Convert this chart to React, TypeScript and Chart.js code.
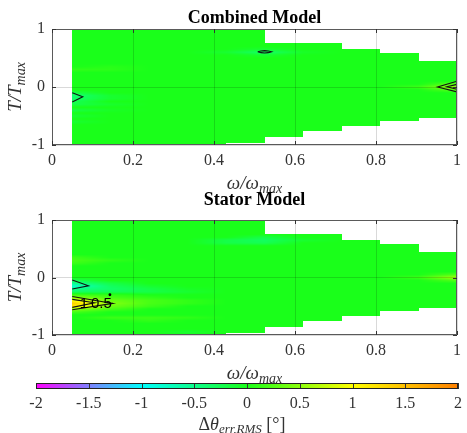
import React, { useEffect, useRef } from 'react';
import { Chart, registerables } from 'chart.js';

Chart.register(...registerables);

// ---------------- data ----------------
// speed grid (omega / omega_max) and operating envelope per speed interval
const omegaNodes = [0.05, 0.145, 0.24, 0.335, 0.43, 0.525, 0.62, 0.715, 0.81, 0.905, 1.0];
const envelopeTop = [1, 1, 1, 1, 1, 0.765, 0.765, 0.65, 0.58, 0.45];
const envelopeBottom = [-1, -1, -1, -1, -0.97, -0.86, -0.76, -0.67, -0.59, -0.53];
const torqueStep = 0.05;

// non-zero RMS angle-error nodes [omega, torque, error in degrees]
const combinedErrors: [number, number, number][] = [
  [0.05, -0.1, -0.2], [0.05, -0.15, -0.4], [0.05, -0.2, -0.35], [0.05, -0.25, -0.25],
  [0.05, -0.3, -0.2], [0.05, -0.4, -0.18], [0.05, -0.5, -0.12], [0.05, -0.6, -0.1],
  [0.145, -0.15, -0.1], [0.145, -0.2, -0.1], [0.145, -0.3, -0.08], [0.145, -0.4, -0.05],
  [0.05, 0.3, 0.1], [0.145, 0.3, 0.08], [0.145, 0.35, 0.06],
  [0.43, 0.6, -0.1], [0.525, 0.55, -0.1], [0.525, 0.6, -0.35], [0.525, 0.65, -0.1], [0.62, 0.6, -0.06],
  [0.905, 0, 0.15], [1, -0.05, 0.3], [1, 0, 0.6], [1, 0.05, 0.3],
];

const statorErrors: [number, number, number][] = [
  [0.05, -0.05, -0.25], [0.05, -0.1, -0.5], [0.05, -0.15, -0.8], [0.05, -0.2, -0.5], [0.05, -0.25, -0.3],
  [0.145, -0.1, -0.2], [0.145, -0.15, -0.3], [0.145, -0.2, -0.35], [0.145, -0.25, -0.25],
  [0.24, -0.15, -0.1], [0.24, -0.2, -0.2], [0.24, -0.25, -0.2], [0.335, -0.2, -0.05], [0.335, -0.25, -0.1],
  [0.05, -0.3, 0.15], [0.05, -0.35, 0.5], [0.05, -0.4, 1.0], [0.05, -0.45, 1.4], [0.05, -0.5, 1.2],
  [0.05, -0.55, 0.5], [0.05, -0.6, 0.2],
  [0.145, -0.3, 0.1], [0.145, -0.35, 0.2], [0.145, -0.4, 0.35], [0.145, -0.45, 0.45], [0.145, -0.5, 0.35],
  [0.145, -0.55, 0.2],
  [0.24, -0.35, 0.1], [0.24, -0.4, 0.2], [0.24, -0.45, 0.2], [0.24, -0.5, 0.15],
  [0.335, -0.4, 0.1], [0.335, -0.45, 0.1],
  [0.145, -0.7, 0.15], [0.24, -0.7, 0.15], [0.24, -0.75, 0.1], [0.335, -0.7, 0.1],
  [0.335, -0.95, -0.1],
  [0.05, 0.25, 0.15], [0.05, 0.3, 0.2], [0.05, 0.35, 0.15], [0.145, 0.3, 0.1],
  [0.43, 0.6, -0.2], [0.43, 0.65, -0.2], [0.525, 0.6, -0.25], [0.525, 0.65, -0.3], [0.525, 0.7, -0.2],
  [0.62, 0.65, -0.1],
  [0.905, 0, 0.15], [1, -0.05, 0.25], [1, 0, 0.6], [1, 0.05, 0.25],
];

// contour lines [omega, torque]
const combinedContours: [number, number][][] = [
  [[0.05, -0.1], [0.076, -0.17], [0.05, -0.26]],
  [[0.508, 0.607], [0.516, 0.622], [0.525, 0.627], [0.534, 0.622], [0.542, 0.607],
   [0.534, 0.592], [0.525, 0.587], [0.516, 0.592], [0.508, 0.607]],
  [[1, 0.1], [0.952, 0], [1, -0.085]],
  [[1, 0.045], [0.975, 0.003], [1, -0.04]],
];
const statorContours: [number, number][][] = [
  [[0.05, -0.045], [0.09, -0.145], [0.05, -0.2]],
  [[0.05, -0.33], [0.15, -0.45], [0.05, -0.56]],
  [[0.05, -0.38], [0.105, -0.44], [0.05, -0.52]],
];
const statorContourLabels: { x: number; y: number; text: string }[] = [
  { x: 0.079, y: -0.45, text: '1' },
  { x: 0.122, y: -0.45, text: '0.5' },
];
const statorDots: [number, number][] = [[0.143, -0.3]];

const xTickValues = [0, 0.2, 0.4, 0.6, 0.8, 1];
const yTickValues = [-1, 0, 1];
const colorbarTicks = [-2, -1.5, -1, -0.5, 0, 0.5, 1, 1.5, 2];
const colorStops: [number, [number, number, number]][] = [
  [-2, [255, 0, 255]],
  [-1, [0, 255, 255]],
  [0, [26, 255, 26]],
  [1, [255, 255, 0]],
  [2, [255, 128, 0]],
];

// ---------------- helpers ----------------
const SERIF = '"Liberation Serif", "Times New Roman", serif';
const TEXT = '#333333';

function fmt(v: number) {
  return String(Number(v.toFixed(2)));
}

function colorFor(v: number): [number, number, number] {
  const lo = colorStops[0][0];
  const hi = colorStops[colorStops.length - 1][0];
  const c = Math.max(lo, Math.min(hi, v));
  for (let k = 0; k < colorStops.length - 1; k++) {
    const [a, ca] = colorStops[k];
    const [b, cb] = colorStops[k + 1];
    if (c >= a && c <= b) {
      const f = (c - a) / (b - a);
      return [0, 1, 2].map((q) => Math.round(ca[q] + (cb[q] - ca[q]) * f)) as [number, number, number];
    }
  }
  return colorStops[0][1];
}

function buildField(nodes: [number, number, number][]) {
  const nT = Math.round(2 / torqueStep) + 1;
  const grid = omegaNodes.map(() => new Array(nT).fill(0));
  for (const [w, t, v] of nodes) {
    const i = omegaNodes.findIndex((o) => Math.abs(o - w) < 1e-6);
    const j = Math.round((t + 1) / torqueStep);
    if (i >= 0 && j >= 0 && j < nT) grid[i][j] = v;
  }
  return grid;
}

function sampleField(grid: number[][], w: number, t: number) {
  let i = 0;
  while (i < omegaNodes.length - 2 && w > omegaNodes[i + 1]) i++;
  const fi = Math.max(0, Math.min(1, (w - omegaNodes[i]) / (omegaNodes[i + 1] - omegaNodes[i])));
  const nT = grid[0].length;
  const tj = Math.max(0, Math.min(nT - 1.0001, (t + 1) / torqueStep));
  const j = Math.floor(tj);
  const fj = tj - j;
  const a = grid[i][j] * (1 - fj) + grid[i][j + 1] * fj;
  const b = grid[i + 1][j] * (1 - fj) + grid[i + 1][j + 1] * fj;
  return a * (1 - fi) + b * fi;
}

function heatmapPlugin(grid: number[][]) {
  return {
    id: 'heatmap',
    beforeDatasetsDraw(chart: any) {
      const { left, top, right, bottom } = chart.chartArea;
      const xs = chart.scales.x;
      const ys = chart.scales.y;
      const w = Math.round(right - left);
      const h = Math.round(bottom - top);
      const off = document.createElement('canvas');
      off.width = w;
      off.height = h;
      const octx = off.getContext('2d')!;
      const img = octx.createImageData(w, h);
      for (let px = 0; px < w; px++) {
        const om = xs.getValueForPixel(left + px + 0.5);
        if (om < omegaNodes[0] || om > omegaNodes[omegaNodes.length - 1]) continue;
        let i = 0;
        while (i < omegaNodes.length - 2 && om >= omegaNodes[i + 1]) i++;
        for (let py = 0; py < h; py++) {
          const tq = ys.getValueForPixel(top + py + 0.5);
          if (tq > envelopeTop[i] || tq < envelopeBottom[i]) continue;
          const [r, g, b] = colorFor(sampleField(grid, om, tq));
          const k = (py * w + px) * 4;
          img.data[k] = r;
          img.data[k + 1] = g;
          img.data[k + 2] = b;
          img.data[k + 3] = 255;
        }
      }
      octx.putImageData(img, 0, 0);
      chart.ctx.drawImage(off, left, top);
    },
  };
}

type Part = { text: string; font: string; dy: number };

function drawRich(ctx: CanvasRenderingContext2D, parts: Part[], cx: number, baseline: number) {
  let total = 0;
  const widths = parts.map((p) => {
    ctx.font = p.font;
    const m = ctx.measureText(p.text).width;
    total += m;
    return m;
  });
  let x = cx - total / 2;
  ctx.textAlign = 'left';
  ctx.textBaseline = 'alphabetic';
  parts.forEach((p, k) => {
    ctx.font = p.font;
    ctx.fillText(p.text, x, baseline + p.dy);
    x += widths[k];
  });
}

const omegaLabel: Part[] = [
  { text: 'ω/ω', font: `italic 19px ${SERIF}`, dy: 0 },
  { text: 'max', font: `italic 14px ${SERIF}`, dy: 4 },
];
const torqueLabel: Part[] = [
  { text: 'T/T', font: `italic 19px ${SERIF}`, dy: 0 },
  { text: 'max', font: `italic 14px ${SERIF}`, dy: 4 },
];
const errorLabel: Part[] = [
  { text: 'Δ', font: `18px ${SERIF}`, dy: 0 },
  { text: 'θ', font: `italic 18px ${SERIF}`, dy: 0 },
  { text: 'err,RMS', font: `italic 13px ${SERIF}`, dy: 3 },
  { text: ' [°]', font: `18px ${SERIF}`, dy: 0 },
];

type PanelCfg = {
  title: string;
  errors: [number, number, number][];
  contours: [number, number][][];
  labels: { x: number; y: number; text: string }[];
  dots: [number, number][];
  top: number;
  padTop: number;
  titleBaseline: number;
};

function decorPlugin(cfg: PanelCfg) {
  return {
    id: 'decor',
    afterDraw(chart: any) {
      const ctx: CanvasRenderingContext2D = chart.ctx;
      const { left, top, right, bottom } = chart.chartArea;
      const xs = chart.scales.x;
      const ys = chart.scales.y;
      ctx.save();
      // contour labels
      ctx.fillStyle = '#000';
      ctx.font = '15px "Liberation Sans", Arial, sans-serif';
      ctx.textAlign = 'center';
      ctx.textBaseline = 'middle';
      cfg.labels.forEach((l) => ctx.fillText(l.text, xs.getPixelForValue(l.x), ys.getPixelForValue(l.y)));
      // box
      ctx.strokeStyle = '#5a5a5a';
      ctx.lineWidth = 1;
      ctx.strokeRect(Math.round(left) + 0.5, Math.round(top) + 0.5, Math.round(right - left) - 1, Math.round(bottom - top) - 1);
      // inward ticks
      ctx.strokeStyle = '#333';
      ctx.beginPath();
      xTickValues.forEach((v) => {
        const p = Math.round(xs.getPixelForValue(v)) + 0.5;
        ctx.moveTo(p, bottom);
        ctx.lineTo(p, bottom - 4);
        ctx.moveTo(p, top);
        ctx.lineTo(p, top + 4);
      });
      yTickValues.forEach((v) => {
        const p = Math.round(ys.getPixelForValue(v)) + 0.5;
        ctx.moveTo(left, p);
        ctx.lineTo(left + 4, p);
        ctx.moveTo(right, p);
        ctx.lineTo(right - 4, p);
      });
      ctx.stroke();
      // title
      ctx.fillStyle = '#000';
      ctx.font = `bold 18px ${SERIF}`;
      ctx.textAlign = 'center';
      ctx.textBaseline = 'alphabetic';
      ctx.fillText(cfg.title, (left + right) / 2, cfg.titleBaseline);
      // axis labels
      ctx.fillStyle = TEXT;
      drawRich(ctx, omegaLabel, (left + right) / 2, bottom + 44);
      ctx.save();
      ctx.translate(21, (top + bottom) / 2);
      ctx.rotate(-Math.PI / 2);
      drawRich(ctx, torqueLabel, 0, 0);
      ctx.restore();
      ctx.restore();
    },
  };
}

const panels: PanelCfg[] = [
  {
    title: 'Combined Model',
    errors: combinedErrors,
    contours: combinedContours,
    labels: [],
    dots: [],
    top: 0,
    padTop: 29,
    titleBaseline: 22.5,
  },
  {
    title: 'Stator Model',
    errors: statorErrors,
    contours: statorContours,
    labels: statorContourLabels,
    dots: statorDots,
    top: 190,
    padTop: 30,
    titleBaseline: 15,
  },
];

const tickFont = { family: SERIF, size: 16 };

function Panel({ cfg }: { cfg: PanelCfg }) {
  const ref = useRef<HTMLCanvasElement>(null);
  useEffect(() => {
    const grid = buildField(cfg.errors);
    const datasets: any[] = cfg.contours.map((c) => ({
      data: c.map(([x, y]) => ({ x, y })),
      showLine: true,
      borderColor: '#111',
      borderWidth: 1.1,
      pointRadius: 0,
      fill: false,
    }));
    if (cfg.dots.length) {
      datasets.push({
        data: cfg.dots.map(([x, y]) => ({ x, y })),
        showLine: false,
        pointRadius: 1.4,
        backgroundColor: '#000',
        borderWidth: 0,
      });
    }
    const chart = new Chart(ref.current!, {
      type: 'scatter',
      data: { datasets },
      options: {
        animation: false,
        responsive: false,
        devicePixelRatio: 1,
        events: [],
        layout: { padding: { top: cfg.padTop, right: 4, left: 0, bottom: 0 } },
        plugins: { legend: { display: false }, tooltip: { enabled: false }, title: { display: false } },
        scales: {
          x: {
            type: 'linear',
            min: 0,
            max: 1,
            afterFit: (s: any) => { s.height = 55; },
            afterBuildTicks: (s: any) => { s.ticks = xTickValues.map((v) => ({ value: v })); },
            ticks: { color: TEXT, font: tickFont, padding: 6, maxRotation: 0, autoSkip: false, callback: (v: any) => fmt(Number(v)) },
            grid: { color: 'rgba(0,0,0,0.15)', z: 1, drawTicks: false },
            border: { display: false },
          },
          y: {
            type: 'linear',
            min: -1,
            max: 1,
            afterFit: (s: any) => { s.width = 52; },
            afterBuildTicks: (s: any) => { s.ticks = yTickValues.map((v) => ({ value: v })); },
            ticks: { color: TEXT, font: tickFont, padding: 7, callback: (v: any) => fmt(Number(v)) },
            grid: { color: 'rgba(0,0,0,0.15)', z: 1, drawTicks: false },
            border: { display: false },
          },
        },
      } as any,
      plugins: [heatmapPlugin(grid), decorPlugin(cfg)],
    });
    return () => chart.destroy();
  }, []);
  return (
    <canvas
      ref={ref}
      width={467}
      height={200}
      style={{ position: 'absolute', left: 0, top: cfg.top, width: 467, height: 200 }}
    />
  );
}

function Colorbar() {
  const ref = useRef<HTMLCanvasElement>(null);
  useEffect(() => {
    const barPlugin = {
      id: 'bar',
      beforeDatasetsDraw(chart: any) {
        const ctx: CanvasRenderingContext2D = chart.ctx;
        const { left, top, right, bottom } = chart.chartArea;
        const xs = chart.scales.x;
        for (let px = Math.round(left); px < Math.round(right); px++) {
          const [r, g, b] = colorFor(xs.getValueForPixel(px + 0.5));
          ctx.fillStyle = `rgb(${r},${g},${b})`;
          ctx.fillRect(px, top, 1, bottom - top);
        }
      },
      afterDraw(chart: any) {
        const ctx: CanvasRenderingContext2D = chart.ctx;
        const { left, top, right, bottom } = chart.chartArea;
        const xs = chart.scales.x;
        ctx.save();
        ctx.strokeStyle = '#333';
        ctx.lineWidth = 1;
        ctx.beginPath();
        colorbarTicks.forEach((v) => {
          const p = Math.round(xs.getPixelForValue(v)) + 0.5;
          ctx.moveTo(p, bottom);
          ctx.lineTo(p, bottom - 3);
          ctx.moveTo(p, top);
          ctx.lineTo(p, top + 3);
        });
        ctx.stroke();
        ctx.strokeStyle = '#222';
        ctx.strokeRect(Math.round(left) + 0.5, Math.round(top) + 0.5, Math.round(right - left) - 1, Math.round(bottom - top) - 1);
        ctx.fillStyle = TEXT;
        drawRich(ctx, errorLabel, 242, 70);
        ctx.restore();
      },
    };
    const chart = new Chart(ref.current!, {
      type: 'scatter',
      data: { datasets: [] },
      options: {
        animation: false,
        responsive: false,
        devicePixelRatio: 1,
        events: [],
        layout: { padding: { top: 23, left: 36, right: 6, bottom: 0 } },
        plugins: { legend: { display: false }, tooltip: { enabled: false } },
        scales: {
          x: {
            type: 'linear',
            min: -2,
            max: 2,
            afterFit: (s: any) => { s.height = 44; },
            afterBuildTicks: (s: any) => { s.ticks = colorbarTicks.map((v) => ({ value: v })); },
            ticks: { color: TEXT, font: tickFont, padding: 5, maxRotation: 0, autoSkip: false, callback: (v: any) => fmt(Number(v)) },
            grid: { display: false, drawTicks: false },
            border: { display: false },
          },
          y: { display: false, min: 0, max: 1 },
        },
      } as any,
      plugins: [barPlugin],
    });
    return () => chart.destroy();
  }, []);
  return (
    <canvas
      ref={ref}
      width={467}
      height={73}
      style={{ position: 'absolute', left: 0, top: 360, width: 467, height: 73 }}
    />
  );
}

export default function App() {
  return (
    <div style={{ position: 'fixed', left: 0, top: 0, width: 467, height: 433, background: '#fff', overflow: 'hidden' }}>
      {panels.map((p) => (
        <Panel key={p.title} cfg={p} />
      ))}
      <Colorbar />
    </div>
  );
}
